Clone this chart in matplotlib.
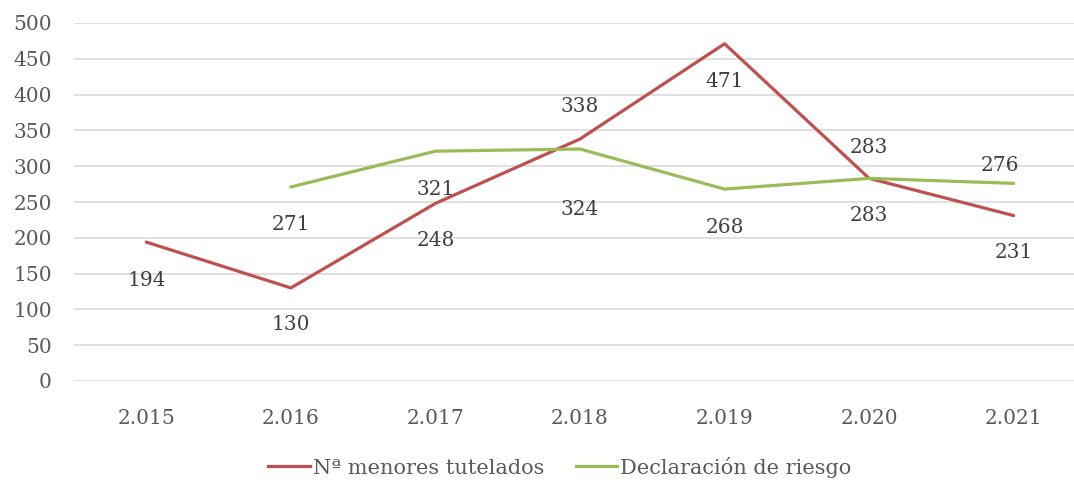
import matplotlib.pyplot as plt
from matplotlib.lines import Line2D

# Datos
years = ["2.015", "2.016", "2.017", "2.018", "2.019", "2.020", "2.021"]
tutelados = [194, 130, 248, 338, 471, 283, 231]
riesgo = [None, 271, 321, 324, 268, 283, 276]

# desplazamiento vertical de cada etiqueta (en px), negativo = debajo
off_tut = [-38, -37, -37, 32, -38, 31, -37]
off_rie = [None, -38, -38, -60, -38, -37, 18]
dx_rie = [0, 0, 0, 0, 0, 0, -14]

red = "#C0504D"
green = "#9BBB59"
txt = "#404040"

plt.rcParams['font.family'] = ['DejaVu Serif']

fig = plt.figure(figsize=(10.74, 4.8), dpi=100)
W, H = 1074, 480
ax = fig.add_axes([74 / W, 1 - 381 / H, 1012 / W, 358 / H])

x = list(range(len(years)))
ax.plot(x, tutelados, color=red, lw=2.3, solid_capstyle='round', zorder=3)
xr = [i for i, v in zip(x, riesgo) if v is not None]
vr = [v for v in riesgo if v is not None]
ax.plot(xr, vr, color=green, lw=2.3, solid_capstyle='round', zorder=3)

ax.set_xlim(-0.5, 6.5)
ax.set_ylim(0, 500)
ax.set_yticks(range(0, 501, 50))
ax.set_xticks(x)
ax.set_xticklabels(years)
ax.grid(axis='y', color='#DDDDDD', lw=1.3)
ax.set_axisbelow(True)
for s in ax.spines.values():
    s.set_visible(False)
ax.tick_params(length=0, labelsize=14.5, colors='#595959')
ax.tick_params(axis='y', pad=16)
ax.tick_params(axis='x', pad=20)

# etiquetas de datos
for i, v in enumerate(tutelados):
    ax.annotate(str(v), (i, v), xytext=(0, off_tut[i] * 0.72), textcoords='offset points',
                ha='center', va='center', fontsize=14.5, color=txt)
for i, v in enumerate(riesgo):
    if v is None:
        continue
    ax.annotate(str(v), (i, v), xytext=(dx_rie[i] * 0.72, off_rie[i] * 0.72), textcoords='offset points',
                ha='center', va='center', fontsize=14.5, color=txt)

# leyenda
handles = [Line2D([], [], color=red, lw=2.3), Line2D([], [], color=green, lw=2.3)]
fig.legend(handles, ["Nª menores tutelados", "Declaración de riesgo"], loc='center',
           bbox_to_anchor=(560 / W, 1 - 467 / H), ncol=2, frameon=False, fontsize=15,
           handlelength=2.0, handletextpad=0.15, columnspacing=1.5, labelcolor='#595959',
           borderpad=0.1)

fig.savefig("out.png", dpi=100)
